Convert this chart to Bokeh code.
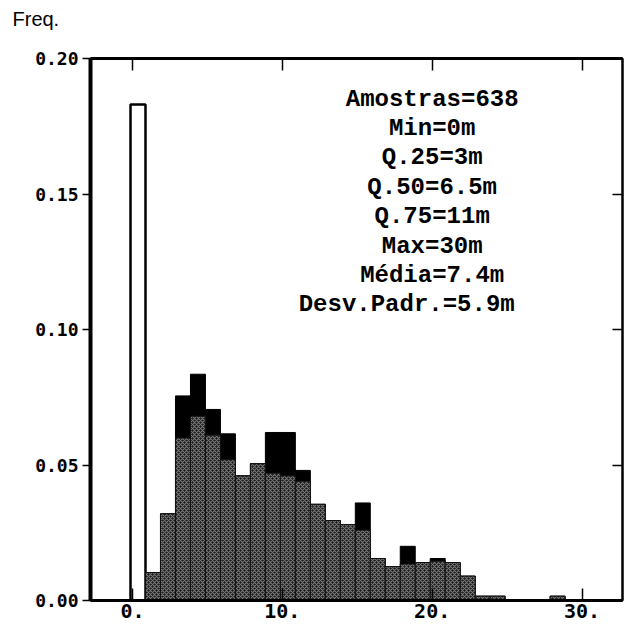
import numpy as np
from bokeh.plotting import figure
from bokeh.models import (Range1d, FixedTicker, PrintfTickFormatter, LinearAxis,
                          CustomJSTickFormatter, ColumnDataSource)
from bokeh.embed import file_html
from bokeh.resources import INLINE
from bokeh.core.properties import value

# ---- data ----
bin_start = list(range(30))  # class start, metres (class width 1 m)
freq = [0.183, 0.0103, 0.032, 0.0755, 0.0835, 0.0705, 0.0615, 0.046, 0.0505, 0.062,
        0.062, 0.048, 0.0355, 0.0295, 0.028, 0.036, 0.0155, 0.0125, 0.020, 0.014,
        0.0155, 0.014, 0.009, 0.0016, 0.0016, 0.0, 0.0, 0.0, 0.0016, 0.0]
# lower (dithered / grey) portion of each bar
shade = [0.0, 0.0103, 0.032, 0.060, 0.068, 0.061, 0.052, 0.046, 0.0505, 0.047,
         0.046, 0.044, 0.0355, 0.0295, 0.028, 0.026, 0.0155, 0.0125, 0.0135, 0.014,
         0.0145, 0.014, 0.009, 0.0016, 0.0016, 0.0, 0.0, 0.0, 0.0016, 0.0]
stat_lines = ["Amostras=638", "Min=0m", "Q.25=3m", "Q.50=6.5m", "Q.75=11m",
              "Max=30m", "Média=7.4m", "Desv.Padr.=5.9m"]
x_ticks = [0, 10, 20, 30]
y_ticks = [0.0, 0.05, 0.10, 0.15, 0.20]

# ---- figure ----
p = figure(width=626, height=624, output_backend="svg", toolbar_location=None,
           x_range=Range1d(-2.8, 32.7), y_range=Range1d(0, 0.2),
           min_border_left=90, min_border_right=4, min_border_top=58,
           min_border_bottom=24, background_fill_color="white",
           border_fill_color="white")
p.grid.visible = False
p.outline_line_color = "black"
p.outline_line_width = 2

# "Freq." axis caption at the top-left (extra blank line lifts it upward)
p.title.text = "Freq.\n"
p.title.align = "left"
p.title.vertical_align = "top"
p.title.offset = -78
p.title.standoff = 10
p.title.text_font = "Liberation Sans"
p.title.text_font_style = "normal"
p.title.text_font_size = "20px"
p.title.text_color = "black"

left = np.array(bin_start, dtype=float) - 0.13
right = left + 1.0
f = np.array(freq)
s = np.array(shade)

# white class (zero values)
p.quad(left=left[:1], right=right[:1], bottom=0, top=f[:1],
       fill_color="white", line_color="black", line_width=2.5)

# black full bars
p.quad(left=left[1:], right=right[1:], bottom=0, top=f[1:],
       fill_color="black", line_color="black", line_width=1)

# dithered grey lower part
p.quad(left=left[1:], right=right[1:], bottom=0, top=s[1:],
       fill_color="#1a1a1a", line_color="#111111", line_width=1,
       hatch_pattern="diagonal_cross", hatch_color="#a0a0a0",
       hatch_scale=4, hatch_weight=1.1, hatch_alpha=0.7)

# ---- axes ----
xa = p.xaxis[0]
xa.ticker = FixedTicker(ticks=x_ticks)
xa.formatter = PrintfTickFormatter(format="%d.")
xa.major_tick_in = 12
xa.major_tick_out = 0
xa.minor_tick_line_color = None
xa.axis_line_width = 3
xa.major_tick_line_width = 1.5
xa.major_label_standoff = 3
xa.major_label_text_font = "DejaVu Sans Mono"
xa.major_label_text_font_style = "bold"
xa.major_label_text_font_size = "20px"
xa.major_label_text_color = "black"

ya = p.yaxis[0]
ya.ticker = FixedTicker(ticks=y_ticks)
ya.formatter = PrintfTickFormatter(format="%.2f")
ya.major_tick_in = 0
ya.major_tick_out = 8
ya.minor_tick_line_color = None
ya.axis_line_width = 4
ya.major_tick_line_width = 1.5
ya.major_label_standoff = 4
ya.major_label_text_font = "DejaVu Sans Mono"
ya.major_label_text_font_style = "bold"
ya.major_label_text_font_size = "18px"
ya.major_label_text_color = "black"

empty = CustomJSTickFormatter(code="return ''")
top_axis = LinearAxis(ticker=FixedTicker(ticks=x_ticks), formatter=empty,
                      major_tick_in=12, major_tick_out=0, minor_tick_line_color=None,
                      axis_line_width=3, major_tick_line_width=1.5,
                      major_label_standoff=0)
p.add_layout(top_axis, "above")
right_axis = LinearAxis(ticker=FixedTicker(ticks=y_ticks), formatter=empty,
                        major_tick_in=10, major_tick_out=0, minor_tick_line_color=None,
                        axis_line_width=2, major_tick_line_width=1.5,
                        major_label_standoff=0)
p.add_layout(right_axis, "right")

# ---- statistics block ----
stat_x = [20.0] * 7 + [18.3]
stat_y = [0.185 - i * 0.01085 for i in range(len(stat_lines))]
src = ColumnDataSource(dict(x=stat_x, y=stat_y, t=stat_lines))
p.text(x="x", y="y", text="t", source=src, text_font=value("Liberation Mono"),
       text_font_style="bold", text_font_size="24px", text_align="center",
       text_baseline="middle", text_color="black")

open("out.html", "w").write(file_html(p, INLINE))
